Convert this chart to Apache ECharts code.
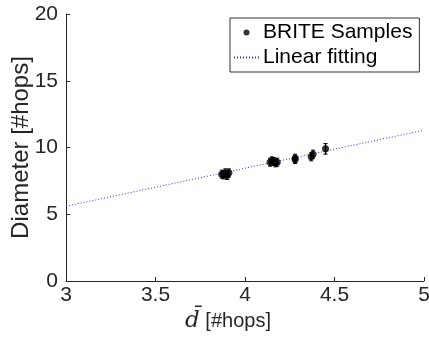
<!DOCTYPE html>
<html><head><meta charset="utf-8">
<script src="https://cdn.jsdelivr.net/npm/echarts@6/dist/echarts.min.js"></script>
<style>html,body{margin:0;padding:0;background:#fff}#c{width:429px;height:340px}</style>
</head><body><div id="c"></div>
<script>
const sampleX = [3.87, 3.89, 3.90, 3.91, 3.88, 4.14, 4.16, 4.17, 4.15, 4.18, 4.28, 4.28, 4.37, 4.38, 4.45];
const sampleY = [8.0, 8.1, 7.9, 8.1, 7.95, 8.9, 8.95, 8.85, 9.0, 8.9, 9.1, 9.2, 9.3, 9.5, 9.9];
const sampleErr = [0.3, 0.3, 0.3, 0.3, 0.3, 0.3, 0.3, 0.3, 0.3, 0.3, 0.3, 0.3, 0.3, 0.3, 0.4];
const fitX = [3, 5];
const fitY = [5.6, 11.3];
const xTicks = [3, 3.5, 4, 4.5, 5];
const yTicks = [0, 5, 10, 15, 20];

const font = 'Liberation Sans';
const txt = '#262626';
const pts = sampleX.map((x, i) => [x, sampleY[i]]);
const errs = sampleX.map((x, i) => [x, sampleY[i] - sampleErr[i], sampleY[i] + sampleErr[i]]);
const fit = fitX.map((x, i) => [x, fitY[i]]);

const chart = echarts.init(document.getElementById('c'));
chart.setOption({
  animation: false,
  grid: {left: 66, right: 5, top: 14, bottom: 59, containLabel: false, outerBoundsMode: 'none'},
  legend: {
    left: 230, top: 18, orient: 'vertical',
    borderColor: '#333', borderWidth: 1, padding: [4, 7, 4, 3],
    itemWidth: 25, itemHeight: 6, itemGap: 4,
    textStyle: {fontFamily: font, fontSize: 21, color: '#000', padding: [0, 0, 0, -1]},
    data: [
      {name: 'BRITE Samples', icon: 'circle', itemStyle: {color: '#000'}},
      {name: 'Linear fitting', itemStyle: {opacity: 0}}
    ]
  },
  xAxis: {
    type: 'value', min: xTicks[0], max: xTicks[xTicks.length - 1], interval: 0.5,
    splitLine: {show: false},
    axisLine: {onZero: false, lineStyle: {color: '#262626', width: 1}},
    axisTick: {inside: true, length: 4, lineStyle: {color: '#262626'}},
    axisLabel: {fontFamily: font, fontSize: 21, color: txt, margin: 4},
    name: '{d|d\u0304} [#hops]', nameLocation: 'middle', nameGap: 29, nameMoveOverlap: false,
    nameTextStyle: {fontFamily: font, fontSize: 20, color: txt, padding: [0, 34, 0, 0],
      rich: {d: {fontFamily: 'DejaVu Serif', fontStyle: 'italic', fontSize: 23, color: txt}}}
  },
  yAxis: {
    type: 'value', min: yTicks[0], max: yTicks[yTicks.length - 1], interval: 5,
    splitLine: {show: false},
    axisLine: {show: true, onZero: false, lineStyle: {color: '#262626', width: 1}},
    axisTick: {show: true, inside: true, length: 4, lineStyle: {color: '#262626'}},
    axisLabel: {fontFamily: font, fontSize: 21, color: txt, margin: 8},
    name: 'Diameter [#hops]', nameLocation: 'middle', nameGap: 33, nameMoveOverlap: false,
    nameTextStyle: {fontFamily: font, fontSize: 24, color: txt}
  },
  series: [
    {
      name: 'Linear fitting', type: 'line', data: fit, showSymbol: false, symbol: 'none',
      lineStyle: {color: '#2a2aff', width: 1, type: [1, 2]}, itemStyle: {color: '#2a2aff'}, z: 1
    },
    {
      name: 'BRITE Samples', type: 'scatter', data: pts, symbolSize: 7,
      itemStyle: {color: '#000'}, z: 3
    },
    {
      name: 'err', type: 'custom', data: errs, z: 2,
      renderItem: function (params, api) {
        const x = api.value(0);
        const lo = api.coord([x, api.value(1)]);
        const hi = api.coord([x, api.value(2)]);
        const w = 2;
        return {type: 'group', children: [
          {type: 'line', shape: {x1: lo[0], y1: lo[1], x2: hi[0], y2: hi[1]}, style: {stroke: '#000', lineWidth: 1.5}},
          {type: 'line', shape: {x1: lo[0] - w, y1: lo[1], x2: lo[0] + w, y2: lo[1]}, style: {stroke: '#000', lineWidth: 1}},
          {type: 'line', shape: {x1: hi[0] - w, y1: hi[1], x2: hi[0] + w, y2: hi[1]}, style: {stroke: '#000', lineWidth: 1}}
        ]};
      }
    }
  ]
});
</script></body></html>
